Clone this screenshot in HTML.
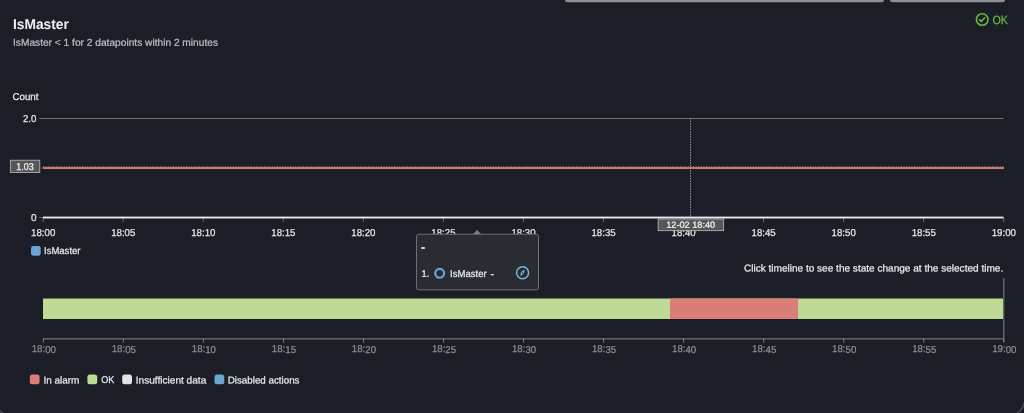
<!DOCTYPE html>
<html lang="en">
<head>
<meta charset="utf-8">
<title>IsMaster alarm</title>
<style>
html,body{margin:0;padding:0;background:#1b1e27;}
body{width:1024px;height:413px;overflow:hidden;font-family:"Liberation Sans", sans-serif;}
svg{display:block;font-family:"Liberation Sans", sans-serif;text-rendering:geometricPrecision;}
</style>
</head>
<body>
<svg width="1024" height="413" viewBox="0 0 1024 413">
<rect x="0" y="0" width="1024" height="413" fill="#1b1e27"/>
<path d="M565 0 H884 V0 Q884 2.2 881 2.2 H568 Q565 2.2 565 0 Z" fill="#8f8f98"/>
<path d="M890 0 H1005 V0 Q1005 2.2 1002 2.2 H893 Q890 2.2 890 0 Z" fill="#8f8f98"/>
<text transform="translate(13 29) matrix(1 0.0005 0 1 0 0)" font-size="14.2" fill="#f0f1f3" font-weight="bold" textLength="55.9" lengthAdjust="spacingAndGlyphs">IsMaster</text>
<text transform="translate(13 45.7) matrix(1 0.0005 0 1 0 0)" font-size="9.9" fill="#b9bcc4" stroke="#b9bcc4" stroke-width="0.25" textLength="205" lengthAdjust="spacingAndGlyphs">IsMaster &lt; 1 for 2 datapoints within 2 minutes</text>
<circle cx="982.2" cy="19.5" r="5.8" fill="none" stroke="#6cb73f" stroke-width="1.6"/>
<path d="M979.5 19.8 L981.2 21.4 L984.8 17.8" fill="none" stroke="#6cb73f" stroke-width="1.6" stroke-linecap="round" stroke-linejoin="round"/>
<text transform="translate(992.5 23.7) matrix(1 0.0005 0 1 0 0)" font-size="12" fill="#6cb73f" stroke="#6cb73f" stroke-width="0.25" textLength="15.4" lengthAdjust="spacingAndGlyphs">OK</text>
<text transform="translate(12.4 100) matrix(1 0.0005 0 1 0 0)" font-size="9.9" fill="#e6e7ea" stroke="#e6e7ea" stroke-width="0.25" textLength="26.1" lengthAdjust="spacingAndGlyphs">Count</text>
<text transform="translate(36.4 121.7) matrix(1 0.0005 0 1 0 0)" font-size="10" fill="#e6e7ea" stroke="#e6e7ea" stroke-width="0.25" text-anchor="end" textLength="13.4" lengthAdjust="spacingAndGlyphs">2.0</text>
<text transform="translate(36.5 221) matrix(1 0.0005 0 1 0 0)" font-size="10" fill="#e6e7ea" stroke="#e6e7ea" stroke-width="0.25" text-anchor="end">0</text>
<rect x="39.3" y="118" width="964" height="1" fill="#6f7278"/>
<line x1="690.5" y1="118" x2="690.5" y2="217" stroke="#8d9096" stroke-width="1" stroke-dasharray="1.6 1"/>
<rect x="40" y="167.5" width="3" height="1" fill="#4a4d55"/>
<line x1="43" y1="166.5" x2="1003.5" y2="166.5" stroke="#c9cbd0" stroke-opacity="0.5" stroke-width="1" stroke-dasharray="1 1.6"/>
<rect x="43" y="166.95" width="961" height="2.1" fill="#cb776d"/>
<rect x="10.3" y="160.2" width="29.5" height="12.4" fill="#565759" stroke="#c2c3c5" stroke-width="0.75"/>
<text transform="translate(25 169.8) matrix(1 0.0005 0 1 0 0)" font-size="9.9" fill="#f2f2f2" stroke="#f2f2f2" stroke-width="0.25" text-anchor="middle" textLength="17.5" lengthAdjust="spacingAndGlyphs">1.03</text>
<rect x="39" y="217" width="4" height="1" fill="#5d6067"/>
<rect x="42.6" y="218" width="1" height="4.2" fill="#666970"/>
<rect x="122.65" y="218" width="1" height="4.2" fill="#666970"/>
<rect x="202.7" y="218" width="1" height="4.2" fill="#666970"/>
<rect x="282.75" y="218" width="1" height="4.2" fill="#666970"/>
<rect x="362.8" y="218" width="1" height="4.2" fill="#666970"/>
<rect x="442.85" y="218" width="1" height="4.2" fill="#666970"/>
<rect x="522.9" y="218" width="1" height="4.2" fill="#666970"/>
<rect x="602.95" y="218" width="1" height="4.2" fill="#666970"/>
<rect x="683.0" y="218" width="1" height="4.2" fill="#666970"/>
<rect x="763.05" y="218" width="1" height="4.2" fill="#666970"/>
<rect x="843.1" y="218" width="1" height="4.2" fill="#666970"/>
<rect x="923.15" y="218" width="1" height="4.2" fill="#666970"/>
<rect x="1003.1999999999999" y="218" width="1" height="4.2" fill="#666970"/>
<rect x="43" y="216.6" width="960.6" height="1.85" fill="#eceded"/>
<text transform="translate(43.2 235.7) matrix(1 0.0005 0 1 0 0)" font-size="10" fill="#e6e7ea" stroke="#e6e7ea" stroke-width="0.25" text-anchor="middle" textLength="24.2" lengthAdjust="spacingAndGlyphs">18:00</text>
<text transform="translate(123.25 235.7) matrix(1 0.0005 0 1 0 0)" font-size="10" fill="#e6e7ea" stroke="#e6e7ea" stroke-width="0.25" text-anchor="middle" textLength="24.2" lengthAdjust="spacingAndGlyphs">18:05</text>
<text transform="translate(203.3 235.7) matrix(1 0.0005 0 1 0 0)" font-size="10" fill="#e6e7ea" stroke="#e6e7ea" stroke-width="0.25" text-anchor="middle" textLength="24.2" lengthAdjust="spacingAndGlyphs">18:10</text>
<text transform="translate(283.34999999999997 235.7) matrix(1 0.0005 0 1 0 0)" font-size="10" fill="#e6e7ea" stroke="#e6e7ea" stroke-width="0.25" text-anchor="middle" textLength="24.2" lengthAdjust="spacingAndGlyphs">18:15</text>
<text transform="translate(363.4 235.7) matrix(1 0.0005 0 1 0 0)" font-size="10" fill="#e6e7ea" stroke="#e6e7ea" stroke-width="0.25" text-anchor="middle" textLength="24.2" lengthAdjust="spacingAndGlyphs">18:20</text>
<text transform="translate(443.45 235.7) matrix(1 0.0005 0 1 0 0)" font-size="10" fill="#e6e7ea" stroke="#e6e7ea" stroke-width="0.25" text-anchor="middle" textLength="24.2" lengthAdjust="spacingAndGlyphs">18:25</text>
<text transform="translate(523.5 235.7) matrix(1 0.0005 0 1 0 0)" font-size="10" fill="#e6e7ea" stroke="#e6e7ea" stroke-width="0.25" text-anchor="middle" textLength="24.2" lengthAdjust="spacingAndGlyphs">18:30</text>
<text transform="translate(603.5500000000001 235.7) matrix(1 0.0005 0 1 0 0)" font-size="10" fill="#e6e7ea" stroke="#e6e7ea" stroke-width="0.25" text-anchor="middle" textLength="24.2" lengthAdjust="spacingAndGlyphs">18:35</text>
<text transform="translate(683.6 235.7) matrix(1 0.0005 0 1 0 0)" font-size="10" fill="#e6e7ea" stroke="#e6e7ea" stroke-width="0.25" text-anchor="middle" textLength="24.2" lengthAdjust="spacingAndGlyphs">18:40</text>
<text transform="translate(763.65 235.7) matrix(1 0.0005 0 1 0 0)" font-size="10" fill="#e6e7ea" stroke="#e6e7ea" stroke-width="0.25" text-anchor="middle" textLength="24.2" lengthAdjust="spacingAndGlyphs">18:45</text>
<text transform="translate(843.7 235.7) matrix(1 0.0005 0 1 0 0)" font-size="10" fill="#e6e7ea" stroke="#e6e7ea" stroke-width="0.25" text-anchor="middle" textLength="24.2" lengthAdjust="spacingAndGlyphs">18:50</text>
<text transform="translate(923.75 235.7) matrix(1 0.0005 0 1 0 0)" font-size="10" fill="#e6e7ea" stroke="#e6e7ea" stroke-width="0.25" text-anchor="middle" textLength="24.2" lengthAdjust="spacingAndGlyphs">18:55</text>
<text transform="translate(1003.8 235.7) matrix(1 0.0005 0 1 0 0)" font-size="10" fill="#e6e7ea" stroke="#e6e7ea" stroke-width="0.25" text-anchor="middle" textLength="24.2" lengthAdjust="spacingAndGlyphs">19:00</text>
<rect x="31" y="246" width="9.7" height="9.7" rx="2.4" fill="#6aa5d3"/>
<text transform="translate(44 254.3) matrix(1 0.0005 0 1 0 0)" font-size="9.9" fill="#e6e7ea" stroke="#e6e7ea" stroke-width="0.25" textLength="36.5" lengthAdjust="spacingAndGlyphs">IsMaster</text>
<rect x="658.1" y="219" width="65.6" height="11.7" fill="#565759" stroke="#c2c3c5" stroke-width="0.75"/>
<text transform="translate(690.7 227.8) matrix(1 0.0005 0 1 0 0)" font-size="8.9" fill="#f2f2f2" stroke="#f2f2f2" stroke-width="0.25" text-anchor="middle" textLength="49" lengthAdjust="spacingAndGlyphs">12-02 18:40</text>
<path d="M473 234.3 L477.1 230 L481.2 234.3 Z" fill="#808389"/>
<rect x="416.5" y="234.2" width="122" height="55.6" rx="2" fill="#2a2c33" stroke="#6c6f76" stroke-width="1"/>
<text transform="translate(421.0 251.3) matrix(1 0.0005 0 1 0 0)" font-size="12.3" fill="#f0f1f3" stroke="#f0f1f3" stroke-width="0.3" font-weight="bold">-</text>
<text transform="translate(421.5 276.7) matrix(1 0.0005 0 1 0 0)" font-size="9.4" fill="#e6e7ea" stroke="#e6e7ea" stroke-width="0.25">1.</text>
<circle cx="439.7" cy="273.3" r="4.45" fill="none" stroke="#6aa5d3" stroke-width="2.2"/>
<text transform="translate(450 276.7) matrix(1 0.0005 0 1 0 0)" font-size="9.9" fill="#e6e7ea" stroke="#e6e7ea" stroke-width="0.25" textLength="36.7" lengthAdjust="spacingAndGlyphs">IsMaster</text>
<text transform="translate(490.6 277.4) matrix(1 0.0005 0 1 0 0)" font-size="11" fill="#e6e7ea" stroke="#e6e7ea" stroke-width="0.3">-</text>
<circle cx="522.6" cy="272.8" r="6" fill="none" stroke="#79b6e0" stroke-width="1.5"/>
<path d="M524.5 269.9 L523.6 273.6 L520.4 275.7 L521.3 272 Z M522.45 272.1 a0.7 0.7 0 1 0 0.01 0 Z" fill="#79b6e0" fill-rule="evenodd" stroke="#79b6e0" stroke-width="0.3" stroke-linejoin="round"/>
<text transform="translate(1003.2 271.6) matrix(1 0.0005 0 1 0 0)" font-size="9.9" fill="#e6e7ea" stroke="#e6e7ea" stroke-width="0.25" text-anchor="end" textLength="259.3" lengthAdjust="spacingAndGlyphs">Click timeline to see the state change at the selected time.</text>
<rect x="1003.3" y="278" width="1" height="64" fill="#868990"/>
<rect x="42.6" y="298" width="961" height="21.4" fill="#12141b"/>
<rect x="43" y="298.5" width="960.3" height="20.5" fill="#bedb96"/>
<rect x="670" y="298.5" width="128.1" height="20.5" fill="#d97f77"/>
<rect x="43" y="338.3" width="961" height="1.1" fill="#7b7e85"/>
<rect x="42.8" y="338.3" width="1" height="4.3" fill="#7b7e85"/>
<text transform="translate(43.8 352.5) matrix(1 0.0005 0 1 0 0)" font-size="10" fill="#8b8e95" stroke="#8b8e95" stroke-width="0.25" text-anchor="middle" textLength="24.2" lengthAdjust="spacingAndGlyphs">18:00</text>
<rect x="122.84" y="338.3" width="1" height="4.3" fill="#7b7e85"/>
<text transform="translate(123.84 352.5) matrix(1 0.0005 0 1 0 0)" font-size="10" fill="#8b8e95" stroke="#8b8e95" stroke-width="0.25" text-anchor="middle" textLength="24.2" lengthAdjust="spacingAndGlyphs">18:05</text>
<rect x="202.88" y="338.3" width="1" height="4.3" fill="#7b7e85"/>
<text transform="translate(203.88 352.5) matrix(1 0.0005 0 1 0 0)" font-size="10" fill="#8b8e95" stroke="#8b8e95" stroke-width="0.25" text-anchor="middle" textLength="24.2" lengthAdjust="spacingAndGlyphs">18:10</text>
<rect x="282.92" y="338.3" width="1" height="4.3" fill="#7b7e85"/>
<text transform="translate(283.92 352.5) matrix(1 0.0005 0 1 0 0)" font-size="10" fill="#8b8e95" stroke="#8b8e95" stroke-width="0.25" text-anchor="middle" textLength="24.2" lengthAdjust="spacingAndGlyphs">18:15</text>
<rect x="362.96000000000004" y="338.3" width="1" height="4.3" fill="#7b7e85"/>
<text transform="translate(363.96000000000004 352.5) matrix(1 0.0005 0 1 0 0)" font-size="10" fill="#8b8e95" stroke="#8b8e95" stroke-width="0.25" text-anchor="middle" textLength="24.2" lengthAdjust="spacingAndGlyphs">18:20</text>
<rect x="443.00000000000006" y="338.3" width="1" height="4.3" fill="#7b7e85"/>
<text transform="translate(444.00000000000006 352.5) matrix(1 0.0005 0 1 0 0)" font-size="10" fill="#8b8e95" stroke="#8b8e95" stroke-width="0.25" text-anchor="middle" textLength="24.2" lengthAdjust="spacingAndGlyphs">18:25</text>
<rect x="523.04" y="338.3" width="1" height="4.3" fill="#7b7e85"/>
<text transform="translate(524.04 352.5) matrix(1 0.0005 0 1 0 0)" font-size="10" fill="#8b8e95" stroke="#8b8e95" stroke-width="0.25" text-anchor="middle" textLength="24.2" lengthAdjust="spacingAndGlyphs">18:30</text>
<rect x="603.08" y="338.3" width="1" height="4.3" fill="#7b7e85"/>
<text transform="translate(604.08 352.5) matrix(1 0.0005 0 1 0 0)" font-size="10" fill="#8b8e95" stroke="#8b8e95" stroke-width="0.25" text-anchor="middle" textLength="24.2" lengthAdjust="spacingAndGlyphs">18:35</text>
<rect x="683.12" y="338.3" width="1" height="4.3" fill="#7b7e85"/>
<text transform="translate(684.12 352.5) matrix(1 0.0005 0 1 0 0)" font-size="10" fill="#8b8e95" stroke="#8b8e95" stroke-width="0.25" text-anchor="middle" textLength="24.2" lengthAdjust="spacingAndGlyphs">18:40</text>
<rect x="763.16" y="338.3" width="1" height="4.3" fill="#7b7e85"/>
<text transform="translate(764.16 352.5) matrix(1 0.0005 0 1 0 0)" font-size="10" fill="#8b8e95" stroke="#8b8e95" stroke-width="0.25" text-anchor="middle" textLength="24.2" lengthAdjust="spacingAndGlyphs">18:45</text>
<rect x="843.2" y="338.3" width="1" height="4.3" fill="#7b7e85"/>
<text transform="translate(844.2 352.5) matrix(1 0.0005 0 1 0 0)" font-size="10" fill="#8b8e95" stroke="#8b8e95" stroke-width="0.25" text-anchor="middle" textLength="24.2" lengthAdjust="spacingAndGlyphs">18:50</text>
<rect x="923.24" y="338.3" width="1" height="4.3" fill="#7b7e85"/>
<text transform="translate(924.24 352.5) matrix(1 0.0005 0 1 0 0)" font-size="10" fill="#8b8e95" stroke="#8b8e95" stroke-width="0.25" text-anchor="middle" textLength="24.2" lengthAdjust="spacingAndGlyphs">18:55</text>
<rect x="1003.28" y="338.3" width="1" height="4.3" fill="#7b7e85"/>
<text transform="translate(1004.28 352.5) matrix(1 0.0005 0 1 0 0)" font-size="10" fill="#8b8e95" stroke="#8b8e95" stroke-width="0.25" text-anchor="middle" textLength="24.2" lengthAdjust="spacingAndGlyphs">19:00</text>
<rect x="29.8" y="374.5" width="9.8" height="9.8" rx="2.5" fill="#d97f77"/>
<text transform="translate(43.4 383.4) matrix(1 0.0005 0 1 0 0)" font-size="9.9" fill="#e6e7ea" stroke="#e6e7ea" stroke-width="0.25" textLength="35.8" lengthAdjust="spacingAndGlyphs">In alarm</text>
<rect x="87.4" y="374.5" width="9.8" height="9.8" rx="2.5" fill="#bedb96"/>
<text transform="translate(101.2 383.4) matrix(1 0.0005 0 1 0 0)" font-size="9.9" fill="#e6e7ea" stroke="#e6e7ea" stroke-width="0.25" textLength="13.1" lengthAdjust="spacingAndGlyphs">OK</text>
<rect x="122.2" y="374.5" width="9.8" height="9.8" rx="2.5" fill="#e4e4e4"/>
<text transform="translate(135.7 383.4) matrix(1 0.0005 0 1 0 0)" font-size="9.9" fill="#e6e7ea" stroke="#e6e7ea" stroke-width="0.25" textLength="70.6" lengthAdjust="spacingAndGlyphs">Insufficient data</text>
<rect x="214.5" y="374.5" width="9.8" height="9.8" rx="2.5" fill="#6aa5d3"/>
<text transform="translate(227.7 383.4) matrix(1 0.0005 0 1 0 0)" font-size="9.9" fill="#e6e7ea" stroke="#e6e7ea" stroke-width="0.25" textLength="71.8" lengthAdjust="spacingAndGlyphs">Disabled actions</text>
<path d="M-0.5 410.4 Q0.8 412.4 3.4 413.4" fill="none" stroke="#4c4f58" stroke-width="1.2"/>
<path d="M1024.3 402.4 Q1023.2 409.6 1016.6 413.4" fill="none" stroke="#4e515a" stroke-width="1.3"/>
</svg>
</body>
</html>
